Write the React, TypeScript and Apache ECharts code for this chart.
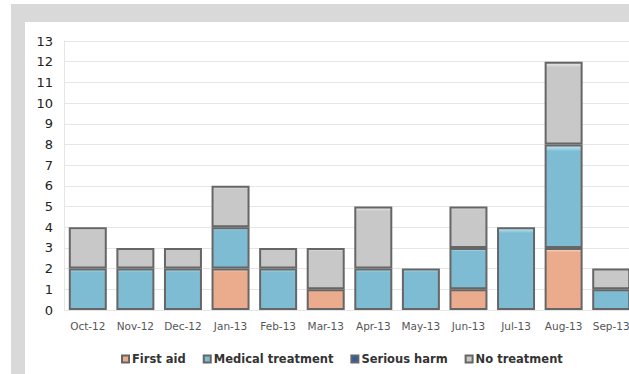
import React, { useEffect, useRef } from "react";
import * as echarts from "echarts";

const categories = ["Oct-12", "Nov-12", "Dec-12", "Jan-13", "Feb-13", "Mar-13", "Apr-13", "May-13", "Jun-13", "Jul-13", "Aug-13", "Sep-13"];
const firstAid = [0, 0, 0, 2, 0, 1, 0, 0, 1, 0, 3, 0];
const medicalTreatment = [2, 2, 2, 2, 2, 0, 2, 2, 2, 4, 5, 1];
const seriousHarm = [0, 0, 0, 0, 0, 0, 0, 0, 0, 0, 0, 0];
const noTreatment = [2, 1, 1, 2, 1, 2, 3, 0, 2, 0, 4, 1];
const seriesNames = ["First aid", "Medical treatment", "Serious harm", "No treatment"];
const yTicks = [0, 13, 1];

const palette = [
  { base: "#eaac8c", light: "#f8dccb" },
  { base: "#7dbcd3", light: "#c6eaf5" },
  { base: "#2f5f9c", light: "#6f97c8" },
  { base: "#c8c8c8", light: "#ececec" },
];

export default function App() {
  const ref = useRef<HTMLDivElement>(null);
  useEffect(() => {
    if (!ref.current) return;
    const chart = echarts.init(ref.current, null, { renderer: "svg" });
    const values = [firstAid, medicalTreatment, seriousHarm, noTreatment];
    chart.setOption({
      animation: false,
      grid: { left: 64, top: 41, width: 571, height: 269, containLabel: false },
      legend: {
        left: 116,
        top: 348,
        itemWidth: 7,
        itemHeight: 7,
        itemGap: 17,
        icon: "rect",
        textStyle: { fontFamily: "DejaVu Sans", fontWeight: "bold", fontSize: 11.5, color: "#333", padding: [0, 0, 0, -2] },
        data: seriesNames,
      },
      xAxis: {
        type: "category",
        data: categories,
        axisLine: { show: false },
        axisTick: { show: false },
        axisLabel: { fontFamily: "DejaVu Sans", fontSize: 10.5, color: "#555", margin: 10, interval: 0 },
      },
      yAxis: {
        type: "value",
        min: yTicks[0],
        max: yTicks[1],
        interval: yTicks[2],
        axisLine: { show: true, lineStyle: { color: "#e6e6e6" } },
        axisTick: { show: false },
        splitLine: { lineStyle: { color: "#e6e6e6" } },
        axisLabel: { fontFamily: "DejaVu Sans", fontSize: 13, color: "#222", margin: 11 },
      },
      series: values.map((vals, i) => ({
        name: seriesNames[i],
        type: "bar",
        stack: "total",
        barWidth: 38,
        data: vals.map((v) => (v === 0 ? null : v)),
        itemStyle: {
          color: new echarts.graphic.LinearGradient(0, 0, 0, 1, [
            { offset: 0, color: palette[i].light },
            { offset: 0.06, color: palette[i].base },
            { offset: 1, color: palette[i].base },
          ]),
          borderColor: "#666666",
          borderWidth: 2,
        },
      })),
    });
    return () => chart.dispose();
  }, []);
  return (
    <div style={{ position: "absolute", left: 0, top: 0, width: 629, height: 374, background: "#fff", overflow: "hidden" }}>
      <div style={{ position: "absolute", left: 11, top: 4, right: 0, bottom: 0, background: "#d9d9d9" }} />
      <div style={{ position: "absolute", left: 25, top: 22, right: 0, bottom: 0, background: "#fff" }} />
      <div ref={ref} style={{ position: "absolute", left: 0, top: 0, width: 660, height: 374 }} />
    </div>
  );
}
